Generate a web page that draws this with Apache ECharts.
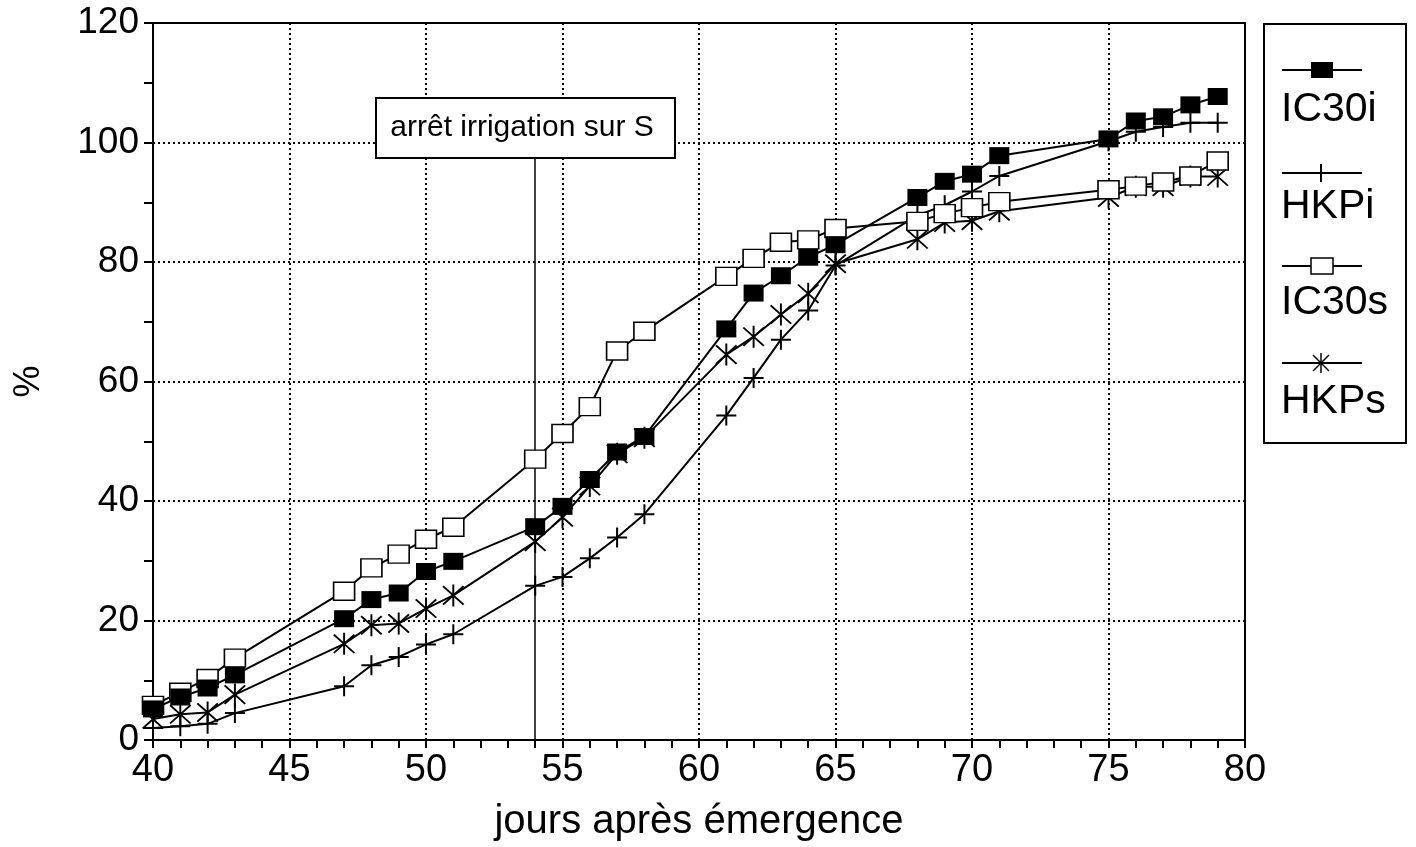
<!DOCTYPE html>
<html>
<head>
<meta charset="utf-8">
<script src="https://cdn.jsdelivr.net/npm/echarts@6/dist/echarts.min.js"></script>
<style>
html,body{margin:0;padding:0;background:#fff;}
#chart{width:1416px;height:847px;}
</style>
</head>
<body>
<div id="chart"></div>
<script>
const days = [40,41,42,43,47,48,49,50,51,54,55,56,57,58,61,62,63,64,65,68,69,70,71,75,76,77,78,79];
const IC30i = [5.2,7.2,8.7,10.9,20.3,23.5,24.6,28.2,29.9,35.7,39.1,43.6,48.2,50.8,68.8,74.8,77.7,80.8,82.9,90.8,93.5,94.7,97.8,100.6,103.6,104.3,106.3,107.7];
const HKPi = [2.0,2.3,2.7,4.5,9.0,12.5,13.9,16.0,17.7,25.8,27.3,30.4,33.9,37.8,54.3,60.6,67.0,71.9,79.4,87.8,89.5,91.8,94.4,100.2,101.8,102.6,103.3,103.3];
const IC30s = [5.8,8.0,10.3,13.7,24.9,28.8,31.1,33.6,35.6,47.0,51.3,55.8,65.1,68.4,77.6,80.6,83.3,83.7,85.6,86.8,88.1,89.1,90.1,92.1,92.7,93.4,94.4,96.9];
const HKPs = [3.5,4.3,4.6,7.6,16.1,19.2,19.5,22.0,24.2,33.2,37.3,42.5,47.9,50.6,64.5,67.5,71.2,74.7,79.7,83.8,86.6,86.9,88.5,90.8,92.6,92.6,94.3,94.3];
const seriesNames = ['IC30i','HKPi','IC30s','HKPs'];
const annotationText = 'arrêt irrigation sur S';
const annotationDay = 54;
const annotationTop = 97.5;

const pair = arr => days.map((d,i)=>[d, arr[i]]);

const PLUS = 'path://M0,9 H20 V11 H0 Z M9,0 H11 V20 H9 Z';
const STAR = 'path://M9.25,0 H10.75 V20 H9.25 Z M1.5,2.2 L2.6,1.1 L18.5,17.8 L17.4,18.9 Z M17.4,1.1 L18.5,2.2 L2.6,18.9 L1.5,17.8 Z';

const baseLine = {type:'line', lineStyle:{color:'#000', width:2}, itemStyle:{color:'#000'}, z:3};

const chart = echarts.init(document.getElementById('chart'));
const font = "'Liberation Sans', Arial, Helvetica, sans-serif";

const legendTop = [70, 173, 266, 363];
const legendText = [110, 207, 303, 402];
const graphics = [
  {type:'rect', shape:{x:1264, y:24, width:142, height:419}, style:{fill:'#fff', stroke:'#000', lineWidth:2}, z:10},
  {type:'rect', shape:{x:376, y:98, width:299, height:60}, style:{fill:'#fff', stroke:'#000', lineWidth:2}, z:10},
  {type:'text', x:522, y:128, style:{text:annotationText, font:"30px "+font, fill:'#000', textAlign:'center', textVerticalAlign:'middle'}, z:11}
];
seriesNames.forEach((n,i)=>{
  const y = legendTop[i];
  graphics.push({type:'line', shape:{x1:1282,y1:y,x2:1362,y2:y}, style:{stroke:'#000', lineWidth:2}, z:11});
  if (i===0) graphics.push({type:'rect', shape:{x:1311,y:y-8,width:22,height:16}, style:{fill:'#000'}, z:12});
  if (i===1) graphics.push({type:'line', shape:{x1:1321,y1:y-9,x2:1321,y2:y+9}, style:{stroke:'#000', lineWidth:2}, z:12});
  if (i===2) graphics.push({type:'rect', shape:{x:1311,y:y-8,width:22,height:16}, style:{fill:'#fff', stroke:'#000', lineWidth:1.5}, z:12});
  if (i===3) {
    graphics.push({type:'line', shape:{x1:1321,y1:y-10,x2:1321,y2:y+10}, style:{stroke:'#000', lineWidth:1.5}, z:12});
    graphics.push({type:'line', shape:{x1:1313,y1:y-8,x2:1329,y2:y+8}, style:{stroke:'#000', lineWidth:1.5}, z:12});
    graphics.push({type:'line', shape:{x1:1329,y1:y-8,x2:1313,y2:y+8}, style:{stroke:'#000', lineWidth:1.5}, z:12});
  }
  graphics.push({type:'text', x:1281, y:legendText[i], style:{text:n, font:"41px "+font, fill:'#000', textVerticalAlign:'middle'}, z:12});
});

const option = {
  backgroundColor:'#fff',
  animation:false,
  grid:{left:153, right:171, top:23, bottom:106, show:true, borderColor:'#000', borderWidth:2, backgroundColor:'transparent'},
  xAxis:{
    type:'value', min:40, max:80, interval:5,
    name:'jours après émergence', nameLocation:'middle', nameGap:62,
    nameTextStyle:{fontFamily:font, fontSize:40, color:'#000'},
    axisLine:{show:true, lineStyle:{color:'#000', width:2}},
    axisTick:{show:true, inside:false, length:8, lineStyle:{color:'#000', width:2}},
    minorTick:{show:true, splitNumber:5, length:8, lineStyle:{color:'#000', width:2}},
    axisLabel:{fontFamily:font, fontSize:38, color:'#000', margin:12},
    splitLine:{show:true, lineStyle:{color:'#000', width:2, type:[2,3]}}
  },
  yAxis:{
    type:'value', min:0, max:120, interval:20,
    name:'%', nameLocation:'middle', nameGap:106, nameRotate:90,
    nameTextStyle:{fontFamily:font, fontSize:36, color:'#000'},
    axisLine:{show:true, lineStyle:{color:'#000', width:2}},
    axisTick:{show:true, inside:false, length:9, lineStyle:{color:'#000', width:2}},
    minorTick:{show:true, splitNumber:2, length:9, lineStyle:{color:'#000', width:2}},
    axisLabel:{fontFamily:font, fontSize:37, color:'#000', margin:14},
    splitLine:{show:true, lineStyle:{color:'#000', width:2, type:[2,3]}}
  },
  series:[
    Object.assign({}, baseLine, {name:seriesNames[0], data:pair(IC30i), symbol:'rect', symbolSize:[20,17], z:6,
      markLine:{silent:true, symbol:['none','none'], label:{show:false}, lineStyle:{color:'#000', width:1.5, type:'solid'},
        data:[[{coord:[annotationDay,0]},{coord:[annotationDay,annotationTop]}]]}}),
    Object.assign({}, baseLine, {name:seriesNames[1], data:pair(HKPi), symbol:PLUS, symbolSize:20, z:4}),
    Object.assign({}, baseLine, {name:seriesNames[2], data:pair(IC30s), symbol:'rect', symbolSize:[21,18], z:5,
      itemStyle:{color:'#fff', borderColor:'#000', borderWidth:1.5}}),
    Object.assign({}, baseLine, {name:seriesNames[3], data:pair(HKPs), symbol:STAR, symbolSize:22, z:3})
  ],
  graphic:graphics
};
chart.setOption(option);
</script>
</body>
</html>
